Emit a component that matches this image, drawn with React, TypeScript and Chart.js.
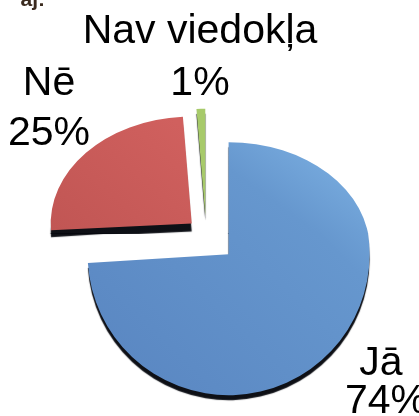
import { useEffect, useRef } from "react";
import { Chart, registerables } from "chart.js";

Chart.register(...registerables);

// ---- data ----
const categories = ["Jā", "Nē", "Nav viedokļa"];
const values = [74, 25, 1];
const titleFragment = "aj:";

// ---- styling ----
const WIDTH = 419;
const HEIGHT = 416;
const RADIUS = 141;
const TOP_SCALE = 0.758; // perspective squash of the far (upper) half
const EXPLODE = [31, 19, 23]; // explode distance per slice
const SIDE_DEPTH = [5, 8, 5]; // visible thickness of each slice's dark side
const LABEL_FONT = '41px "Liberation Sans", Arial, sans-serif';
const LABEL_LINES = [
  [
    { x: 381, y: 375 },
    { x: 386, y: 413 },
  ],
  [
    { x: 49, y: 95 },
    { x: 49, y: 145 },
  ],
  [
    { x: 200, y: 43 },
    { x: 200, y: 95 },
  ],
];

function sliceFill(chart: any, index: number) {
  const c = chart.ctx as CanvasRenderingContext2D;
  if (index === 0) {
    const g = c.createLinearGradient(370, 140, 130, 390);
    g.addColorStop(0, "#7cb0e2");
    g.addColorStop(0.3, "#6697ce");
    g.addColorStop(1, "#5a87c2");
    return g;
  }
  if (index === 1) {
    const g = c.createLinearGradient(200, 110, 60, 230);
    g.addColorStop(0, "#d0605e");
    g.addColorStop(1, "#c15654");
    return g;
  }
  return "#a7ca6a";
}

const pie3dPlugin = {
  id: "pie3d",
  beforeDatasetsDraw(chart: any) {
    const meta = chart.getDatasetMeta(0);
    const arcs = meta.data;
    if (!arcs.length) return false;
    const ctx = chart.ctx as CanvasRenderingContext2D;
    const cy = Math.round(arcs[0].y);
    const passes = [
      { top: 0, bottom: cy + 1, scale: TOP_SCALE },
      { top: cy, bottom: chart.height, scale: 1 },
    ];
    for (const p of passes) {
      ctx.save();
      ctx.beginPath();
      ctx.rect(0, p.top, chart.width, p.bottom - p.top);
      ctx.clip();
      ctx.translate(0, cy);
      ctx.scale(1, p.scale);
      ctx.translate(0, -cy);
      ctx.shadowColor = "rgba(6,8,14,0.97)";
      ctx.shadowBlur = 1;
      arcs.forEach((arc: any, i: number) => {
        const mid = (arc.startAngle + arc.endAngle) / 2;
        const d = EXPLODE[i] || 0;
        ctx.save();
        ctx.shadowOffsetY = SIDE_DEPTH[i] || 0;
        ctx.translate(Math.cos(mid) * d, Math.sin(mid) * d);
        arc.draw(ctx);
        ctx.restore();
      });
      ctx.restore();
    }
    return false;
  },
  afterDraw(chart: any) {
    const ctx = chart.ctx as CanvasRenderingContext2D;
    const total = values.reduce((a, b) => a + b, 0);
    ctx.save();
    ctx.fillStyle = "#000000";
    ctx.font = LABEL_FONT;
    ctx.textAlign = "center";
    ctx.textBaseline = "alphabetic";
    categories.forEach((name, i) => {
      const pct = Math.round((values[i] / total) * 100) + "%";
      const pos = LABEL_LINES[i];
      ctx.fillText(name, pos[0].x, pos[0].y);
      ctx.fillText(pct, pos[1].x, pos[1].y);
    });
    // cropped title fragment at the very top
    ctx.fillStyle = "#3a2a1e";
    ctx.font = 'bold 21px "Liberation Sans", Arial, sans-serif';
    ctx.textAlign = "right";
    ctx.fillText(titleFragment, 45, 6);
    ctx.restore();
  },
};

export default function App() {
  const ref = useRef<HTMLCanvasElement | null>(null);
  useEffect(() => {
    if (!ref.current) return;
    const chart = new Chart(ref.current, {
      type: "pie",
      data: {
        labels: categories,
        datasets: [
          {
            data: values,
            backgroundColor: (c: any) => sliceFill(c.chart, c.dataIndex),
            borderWidth: 0,
            radius: RADIUS,
          } as any,
        ],
      },
      options: {
        responsive: false,
        animation: false,
        layout: { padding: { top: 50, right: 7, left: 0, bottom: 0 } },
        plugins: {
          legend: { display: false },
          tooltip: { enabled: false },
          title: { display: false },
        },
      },
      plugins: [pie3dPlugin],
    });
    return () => chart.destroy();
  }, []);
  return (
    <div style={{ position: "fixed", left: 0, top: 0, width: WIDTH, height: HEIGHT, background: "#fff" }}>
      <canvas ref={ref} width={WIDTH} height={HEIGHT} style={{ display: "block" }} />
    </div>
  );
}
